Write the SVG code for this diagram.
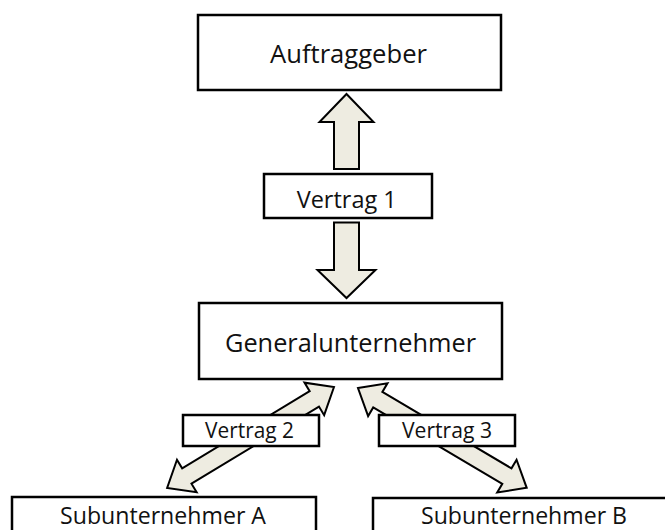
<svg xmlns="http://www.w3.org/2000/svg" width="665" height="530" viewBox="0 0 665 530">
<style>
.box{fill:#ffffff;stroke:#000000;stroke-width:2.5}
.arr{fill:#EEECE1;stroke:#000000;stroke-width:2;stroke-linejoin:miter}
.t{font-family:"Open Sans","Liberation Sans",sans-serif;fill:#111111;text-anchor:middle}
.big{font-size:25px}
.mid{font-size:24px}
.sm{font-size:21px}
</style>
<rect width="665" height="530" fill="#ffffff"/>
<g id="connectors">
<polygon class="arr" points="346.5,94 373.5,122 359,122 359,169 334,169 334,122 319.5,122"/>
<polygon class="arr" points="334,222.5 359,222.5 359,270 375.5,270 346.5,298 317.5,270 334,270"/>
<polygon class="arr" transform="translate(334,387) rotate(148.84)" points="0,0 23,-19 23,-9 172,-9 172,-19 195,0 172,19 172,9 23,9 23,19"/>
<polygon class="arr" transform="translate(358,388) rotate(30.61)" points="0,0 23,-19 23,-9 173,-9 173,-19 196,0 173,19 173,9 23,9 23,19"/>
</g>
<g id="auftraggeber">
<rect class="box" x="198" y="15" width="303" height="75"/>
<text class="t big" x="348.5" y="62.5" textLength="157" lengthAdjust="spacingAndGlyphs">Auftraggeber</text>
</g>
<g id="vertrag1">
<rect class="box" x="264" y="174" width="168" height="44"/>
<text class="t mid" x="346.7" y="207.5" textLength="100" lengthAdjust="spacingAndGlyphs">Vertrag 1</text>
</g>
<g id="generalunternehmer">
<rect class="box" x="199" y="303" width="303" height="76"/>
<text class="t big" x="350.5" y="352" textLength="251" lengthAdjust="spacingAndGlyphs">Generalunternehmer</text>
</g>
<g id="vertrag2">
<rect class="box" x="183" y="415" width="136" height="31"/>
<text class="t sm" x="249.5" y="438" textLength="89" lengthAdjust="spacingAndGlyphs">Vertrag 2</text>
</g>
<g id="vertrag3">
<rect class="box" x="379" y="415" width="136" height="31"/>
<text class="t sm" x="447" y="438" textLength="90" lengthAdjust="spacingAndGlyphs">Vertrag 3</text>
</g>
<g id="subA">
<rect class="box" x="12" y="497" width="304" height="50"/>
<text class="t mid" x="163" y="523.5" textLength="206" lengthAdjust="spacingAndGlyphs">Subunternehmer A</text>
</g>
<g id="subB">
<rect class="box" x="373" y="498" width="304" height="50"/>
<text class="t mid" x="524" y="524" textLength="206" lengthAdjust="spacingAndGlyphs">Subunternehmer B</text>
</g>
</svg>
